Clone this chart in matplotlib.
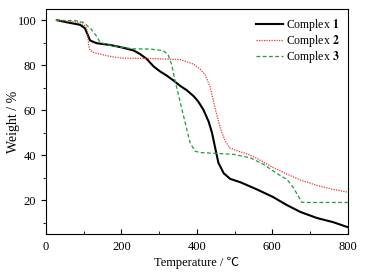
import matplotlib
matplotlib.use("Agg")
import matplotlib.pyplot as plt
from matplotlib.ticker import MultipleLocator

plt.rcParams['font.family'] = ['Liberation Serif', 'Noto Sans CJK SC', 'DejaVu Sans']
plt.rcParams['mathtext.fontset'] = 'stix'
plt.rcParams['font.size'] = 9

# Complex 1 (black, solid)
t1 = [30, 55, 90, 103, 117, 134, 170, 199, 232, 249, 267, 285, 302, 320, 338, 356,
      373, 391, 403, 417, 431, 440, 449, 457, 471, 488, 515, 559, 601, 639, 674, 718, 762, 800]
w1 = [100, 99.1, 98, 96.5, 91, 89.8, 89, 88, 86.6, 85, 82.8, 79.5, 77.3, 75.4, 73.2, 70.8,
      68.9, 66.3, 64, 60.3, 55, 50, 42.8, 36.6, 32, 29.5, 28, 24.8, 21.5, 17.8, 14.8, 12.1, 10.2, 8]

# Complex 2 (red, dotted)
t2 = [30, 90, 105, 110, 113, 116, 125, 161, 199, 276, 356, 391, 408, 421, 435, 449, 462,
      475, 488, 506, 533, 559, 601, 639, 674, 718, 762, 800]
w2 = [100, 99, 97.3, 95, 89, 87, 85.8, 84.2, 83.2, 83, 82.5, 80.5, 78.4, 76, 70.4, 60.3, 52.1,
      46.2, 43.2, 42, 40.6, 38.6, 34.6, 31.6, 29, 26.6, 24.8, 23.6]

# Complex 3 (green, dashed)
t3 = [25, 80, 100, 120, 134, 143, 161, 199, 232, 276, 311, 324, 333, 342, 356, 369, 382,
      395, 408, 453, 497, 542, 577, 612, 639, 656, 678, 700, 800]
w3 = [100, 99.8, 99, 96, 92.9, 90.2, 89.2, 88, 87.3, 87.2, 86.5, 84.5, 80.3, 73.2, 63.3, 54.4, 45.5,
      41.8, 41.2, 40.8, 40.4, 38.8, 35.9, 31.9, 29.2, 25.5, 19.1, 19, 19]

fig = plt.figure(figsize=(3.74, 2.73), dpi=100)
ax = fig.add_axes([0.123, 0.143, 0.807, 0.824])

ax.plot(t1, w1, color='black', lw=1.5, label='Complex $\\mathbf{1}$')
ax.plot(t2, w2, color='#e8352e', lw=0.9, ls=(0, (1, 1)), label='Complex $\\mathbf{2}$')
ax.plot(t3, w3, color='#1f9a3c', lw=0.9, ls=(0, (3, 2)), label='Complex $\\mathbf{3}$')

ax.set_xlim(0, 800)
ax.set_ylim(5, 105)
ax.xaxis.set_major_locator(MultipleLocator(200))
ax.xaxis.set_minor_locator(MultipleLocator(100))
ax.yaxis.set_major_locator(MultipleLocator(20))
ax.yaxis.set_minor_locator(MultipleLocator(10))
ax.tick_params(axis='x', which='both', direction='in', top=False, pad=5)
ax.tick_params(axis='y', which='both', direction='out', right=False)
ax.tick_params(which='major', length=3.5, labelsize=9)
ax.tick_params(which='minor', length=2)
ax.set_yticks([20, 40, 60, 80, 100])

ax.set_xlabel('Temperature / \u2103', fontsize=9, labelpad=3)
ax.set_ylabel('Weight / %', fontsize=10)
ax.yaxis.set_label_coords(-0.085, 0.5)

ax.legend(loc='upper right', frameon=False, handlelength=2.3, handletextpad=0.25,
          labelspacing=0.0, borderaxespad=0.3, fontsize=8.5)

fig.savefig('out.png', dpi=100)
